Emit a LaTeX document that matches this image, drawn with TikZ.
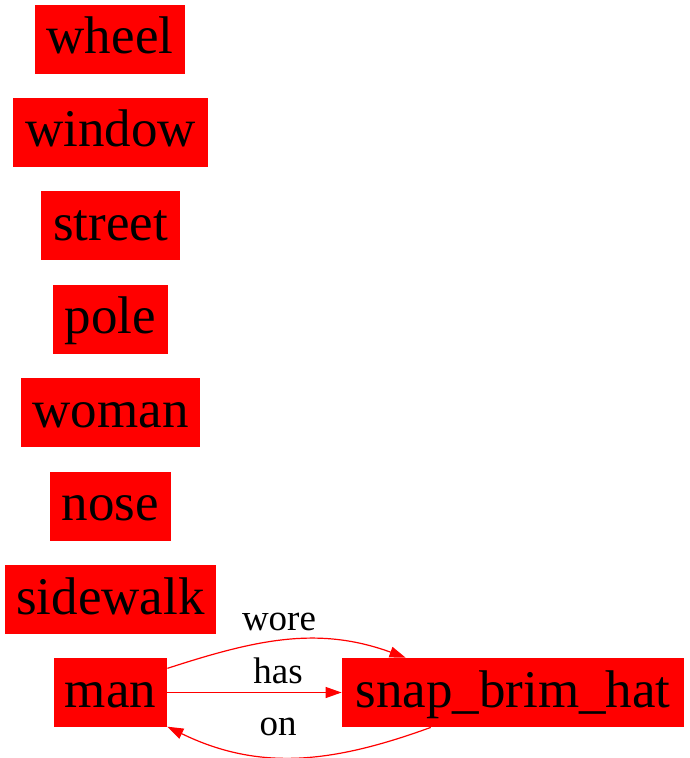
\documentclass[tikz,border=0pt]{standalone}
\usepackage{fontspec}
\setmainfont{Liberation Serif}
\usetikzlibrary{arrows.meta}
\definecolor{gvred}{RGB}{255,0,0}
\tikzset{
  ent/.style={fill=gvred, draw=none, inner sep=0pt, minimum height=34.5pt, text=black,
    font=\fontsize{26.5}{30}\selectfont, text height=18pt, text depth=3.5pt, anchor=center},
  rel/.style={draw=gvred, line width=0.6pt, -{Triangle[length=8pt,width=5.5pt]}},
  lab/.style={font=\fontsize{18.5}{22}\selectfont, inner sep=0pt, text=black, anchor=base}
}
\begin{document}
\begin{tikzpicture}[x=0.5pt,y=-0.5pt]
\useasboundingbox (0,0) rectangle (689,758);
\node[ent, minimum width=75pt]   (wheel)    at (110,39.5)  {wheel};
\node[ent, minimum width=97.5pt] (window)   at (110.5,132.5) {window};
\node[ent, minimum width=69.5pt] (street)   at (110.5,226) {street};
\node[ent, minimum width=57.5pt] (pole)     at (110.5,319.5) {pole};
\node[ent, minimum width=89.5pt] (woman)    at (110.5,412.5) {woman};
\node[ent, minimum width=60.5pt] (nose)     at (110.5,506) {nose};
\node[ent, minimum width=105.5pt](sidewalk) at (110.5,599.5) {sidewalk};
\node[ent, minimum width=56.5pt] (man)      at (110.5,692.5) {man};
\node[ent, minimum width=171pt]  (snap)     at (513,692.5) {snap\_brim\_hat};
\draw[rel] (man.23) to[out=18,in=160] (snap.162);
\draw[rel] (man.east) -- (snap.west);
\draw[rel] (snap.203) to[out=200,in=-26] (man.-31);
\node[lab] (lwore) at (279,630) {wore};
\node[lab] (lhas)  at (278,683) {has};
\node[lab] (lon)   at (278,735) {on};
\end{tikzpicture}
\end{document}
